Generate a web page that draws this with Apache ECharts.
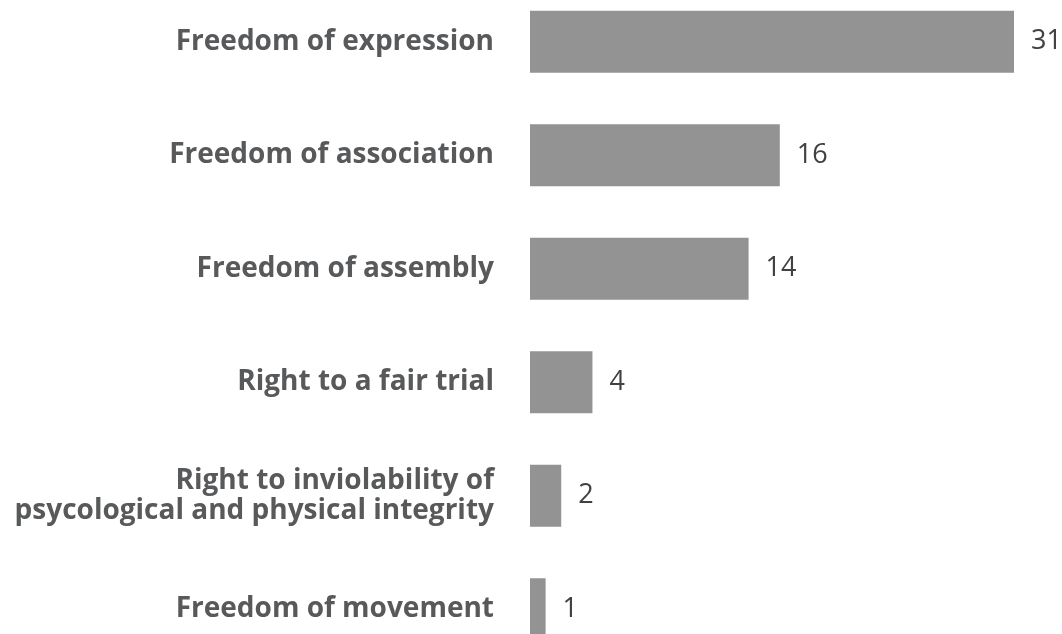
<!DOCTYPE html>
<html>
<head>
<meta charset="utf-8">
<script src="https://cdn.jsdelivr.net/npm/echarts@6/dist/echarts.min.js"></script>
<style>
  html, body { margin: 0; padding: 0; background: #ffffff; overflow: hidden; }
  #wrap { position: relative; width: 1062px; height: 634px; overflow: hidden; }
  /* the plot runs a little past the top and bottom edges of the view */
  #chart { position: absolute; left: 0; top: -15px; width: 1062px; height: 681px; }
</style>
</head>
<body>
<div id="wrap"><div id="chart"></div></div>
<script>
// Rights categories, listed top to bottom
const categories = [
  'Freedom of expression',
  'Freedom of association',
  'Freedom of assembly',
  'Right to a fair trial',
  'Right to inviolability of\npsycological and physical integrity',
  'Freedom of movement'
];
// Number of cases per right
const counts = [31, 16, 14, 4, 2, 1];

const chart = echarts.init(document.getElementById('chart'), null, { renderer: 'canvas' });

chart.setOption({
  animation: false,
  backgroundColor: '#ffffff',
  grid: { left: 530, right: 48, top: 0, bottom: 0, containLabel: false },
  xAxis: {
    type: 'value',
    min: 0,
    max: 31,
    show: false
  },
  yAxis: {
    type: 'category',
    data: categories,
    inverse: true,
    axisLine: { show: false },
    axisTick: { show: false },
    splitLine: { show: false },
    axisLabel: {
      margin: 36,
      fontFamily: 'Open Sans',
      fontWeight: 'bold',
      fontSize: 28,
      lineHeight: 30,
      color: '#58595b',
      align: 'right'
    }
  },
  series: [{
    type: 'bar',
    data: counts,
    barWidth: 62,
    itemStyle: { color: '#939394' },
    label: {
      show: true,
      position: 'right',
      distance: 17,
      fontFamily: 'Open Sans',
      fontSize: 27,
      color: '#414042'
    }
  }]
});
</script>
</body>
</html>
